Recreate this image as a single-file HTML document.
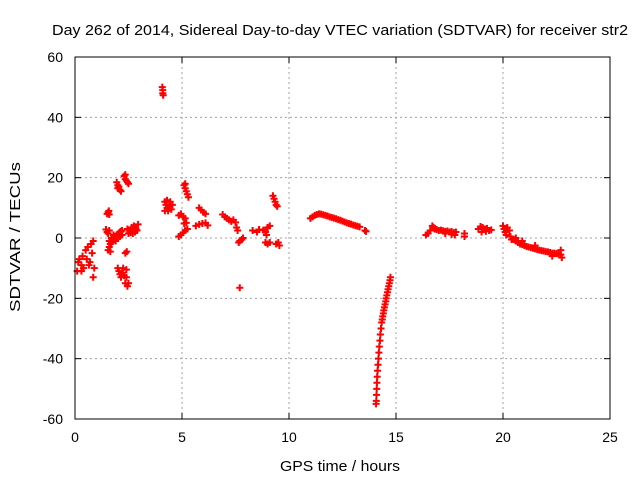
<!DOCTYPE html>
<html><head><meta charset="utf-8"><style>
html,body{margin:0;padding:0;background:#fff}
svg{display:block;font-family:"Liberation Sans",sans-serif}
</style></head><body>
<svg id="chart" width="640" height="480" xmlns="http://www.w3.org/2000/svg">
<text x="52" y="35" font-size="15" textLength="576" lengthAdjust="spacingAndGlyphs">Day 262 of 2014, Sidereal Day-to-day VTEC variation (SDTVAR) for receiver str2</text>
<text x="280" y="471" font-size="15" textLength="120" lengthAdjust="spacingAndGlyphs">GPS time / hours</text>
<text transform="translate(20,312) rotate(-90)" font-size="15" textLength="150" lengthAdjust="spacingAndGlyphs">SDTVAR / TECUs</text>
<g id="grid"></g>
<g id="ticks"></g>
<g id="marks"></g>
<rect x="75" y="57" width="535" height="362" fill="none" stroke="#000" stroke-width="1"/>
</svg>
<script>
const xTicks=[0,5,10,15,20,25];
const yTicks=[-60,-40,-20,0,20,40,60];
const xs=[0.1,0.15,0.3,0.35,0.4,0.5,0.55,0.6,0.65,0.7,0.75,0.8,0.85,0.9,0.85,0.3,0.2,
1.55,1.6,1.5,1.58,1.5,1.55,1.6,1.45,
1.55,1.6,1.65,1.7,1.75,1.8,1.85,1.9,1.95,2.0,2.05,2.1,2.15,2.2,1.6,1.7,1.8,1.65,1.9,2.0,2.1,2.2,
2.45,2.55,2.65,2.75,2.85,2.9,2.5,2.6,2.8,2.95,2.7,
1.95,2.0,2.05,2.1,2.15,2.0,2.3,2.35,2.4,2.45,2.5,2.35,
2.0,2.05,2.1,2.15,2.2,2.3,2.4,2.35,2.45,2.5,2.4,2.25,2.35,2.42,
4.1,4.12,4.1,4.08,
4.2,4.25,4.3,4.35,4.4,4.45,4.5,4.2,4.3,4.55,
4.85,4.95,5.05,5.15,5.2,5.1,4.85,4.95,5.05,5.15,5.25,
5.1,5.15,5.2,5.25,5.3,5.15,
5.8,5.9,6.0,6.1,5.65,5.8,5.95,6.1,6.2,
6.9,7.0,7.1,7.2,7.3,7.4,7.5,7.55,7.6,
7.65,7.7,7.8,7.85,7.7,
8.3,8.5,8.6,8.8,8.9,9.0,9.1,8.95,
8.9,9.0,9.1,9.4,9.5,9.55,
9.25,9.3,9.35,9.4,9.45,
11.0,11.1,11.2,11.3,11.4,11.5,11.6,11.7,11.8,11.9,12.0,12.1,12.2,12.3,12.4,12.5,12.6,12.7,12.8,12.9,13.0,13.1,13.2,13.3,13.55,13.6,
14.74,14.72,14.69,14.66,14.63,14.6,14.57,14.54,14.52,14.49,14.46,14.43,14.41,14.38,14.36,14.33,14.3,14.27,14.25,14.22,14.2,14.18,14.16,14.14,14.12,14.11,14.1,14.09,14.08,14.07,
16.4,16.5,16.6,16.7,16.75,16.8,16.9,17.0,17.1,17.2,17.3,17.4,17.5,17.6,17.7,17.8,17.75,17.6,17.3,18.2,18.2,
18.85,18.95,19.05,19.15,19.25,19.35,19.45,19.0,19.2,
20.0,20.05,20.1,20.15,20.2,20.3,20.35,20.4,20.5,20.6,20.7,20.8,20.9,21.0,21.1,21.2,21.3,21.4,21.5,21.6,21.7,21.8,21.9,22.0,22.1,22.2,22.3,22.4,22.5,22.6,22.7,22.75,22.7,22.3,21.5,20.9,20.6];
const ys=[-11,-8,-9,-6,-10,-4,-7,-3,-9,-8,-2,-5,-13,-10,-1,-11,-7,
8.5,7.8,8,9,2,1.5,2.5,2.8,
-4,-3,-2,-1.5,-1,-0.5,0,0.5,1,1.3,1.6,2,2.2,2.5,-1,0,1,-4.5,-1,0,0.5,1,
3,2.5,3.5,4,3,2.5,1.5,1.8,2,4.5,1.5,
18.5,17.5,17,16,15.5,16.5,20.5,19.5,19,18.5,18,21,
-10,-11,-12,-13,-11.5,-12.5,-13,-15,-16,-15,-10.5,-10,-5,-4.5,
48,47.3,49,50,
12,11,10,9,10.5,12,9.5,9,12.5,11,
7.5,8,7,6.5,5,4.8,0.5,1,1.8,2.5,3,
17.5,16.5,15.5,14.5,13.5,18,
10,9.3,8.5,8,4,4.5,4.8,5,4.2,
7.8,7,6.5,6,5.5,6,5.2,3.5,2.5,
-1.5,-1,-0.5,0,-16.5,
2.5,2,2.8,2.6,2,3.5,4,1,
-1.5,-2,-1.5,-2,-1.5,-2.5,
14,13,12,11,10.5,
6.5,7,7.5,7.8,8,7.9,7.7,7.5,7.3,7,6.8,6.6,6.4,6.1,5.9,5.6,5.3,5,4.8,4.6,4.3,4.1,3.9,3.7,2.5,2.2,
-13,-14,-15,-16,-17,-18,-19,-20,-21,-22,-23,-24,-25,-26,-27,-28,-30,-32,-34,-36,-38,-40,-42,-44,-46,-48,-50,-52,-54,-55,
1,1.5,2.5,4,3.5,3,2.8,2.5,2.6,2.4,2.2,2.3,2,2.1,1.8,2,1,1.2,1.5,1.5,0.5,
3,3.8,3.5,3,3.2,2.5,2.7,2,2.2,
4,3,2,1,3.5,2.5,0.5,-0.5,-0.5,-1,-1.5,-2,-2.2,-2.5,-2.8,-3,-3.2,-3.4,-3.6,-3.8,-4,-4.2,-4.3,-4.5,-4.6,-4.8,-5,-5,-5.2,-5.3,-5.5,-6.5,-4,-6,-2.5,-1,0];
const L=75,R=610,T=57,B=419;
function sx(v){return L+(v-0)/(25-0)*(R-L);}
function sy(v){return B-(v+60)/120*(B-T);}
const NS="http://www.w3.org/2000/svg";
const grid=document.getElementById('grid'),ticks=document.getElementById('ticks'),marks=document.getElementById('marks');
function mk(tag,attrs,parent){const e=document.createElementNS(NS,tag);for(const k in attrs)e.setAttribute(k,attrs[k]);parent.appendChild(e);return e;}
xTicks.forEach(v=>{
  const x=sx(v);
  if(v>0&&v<25){const g=mk('line',{x1:x,x2:x,y1:T,y2:B,stroke:'#a0a0a0','stroke-dasharray':'2,3'},grid);
  
  }
  mk('line',{x1:x,x2:x,y1:B,y2:B-6,stroke:'#000'},ticks);
  mk('line',{x1:x,x2:x,y1:T,y2:T+6,stroke:'#000'},ticks);
  const t=mk('text',{x:x,y:B+23,'font-size':14,'text-anchor':'middle'},ticks);
  t.textContent=v;
  
  
});
yTicks.forEach(v=>{
  const y=sy(v);
  if(v>-60&&v<60){const g=mk('line',{x1:L,x2:R,y1:y,y2:y,stroke:'#a0a0a0','stroke-dasharray':'2,3'},grid);
  
  }
  mk('line',{x1:L,x2:L+6,y1:y,y2:y,stroke:'#000'},ticks);
  mk('line',{x1:R,x2:R-6,y1:y,y2:y,stroke:'#000'},ticks);
  const t=mk('text',{x:L-12,y:y+5,'font-size':14,'text-anchor':'end'},ticks);
  t.textContent=v;
  
  
});
for(let i=0;i<xs.length;i++){
  const x=sx(xs[i]),y=sy(ys[i]);
  const p=mk('path',{d:`M${x-3.5},${y}H${x+3.5}M${x},${y-3.5}V${y+3.5}`,stroke:'#ff0000','stroke-width':2,fill:'none'},marks);
  
  
}
</script>
</body></html>
